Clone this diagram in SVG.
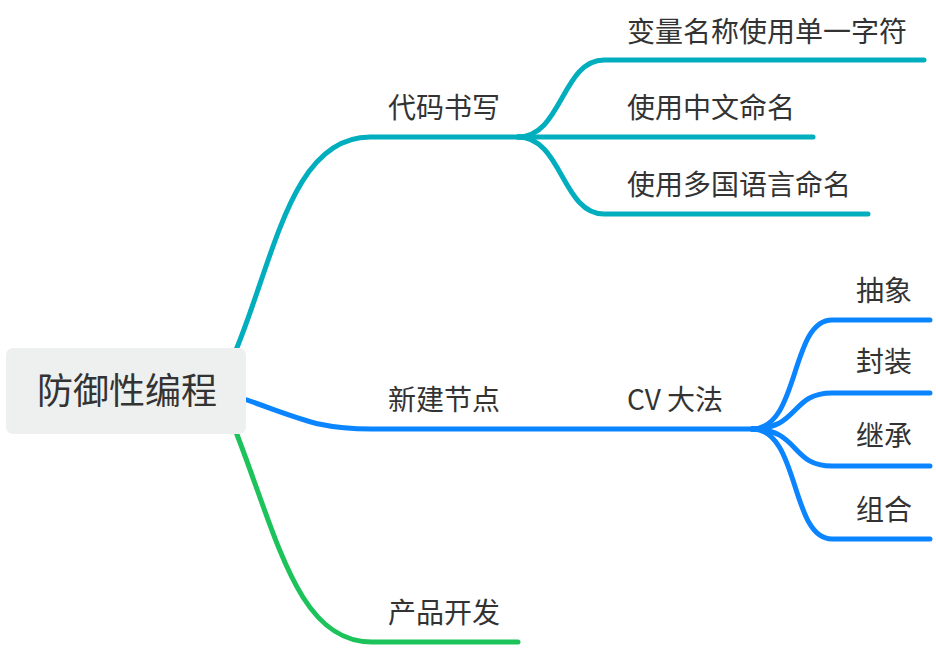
<svg xmlns="http://www.w3.org/2000/svg" width="936" height="648" viewBox="0 0 936 648">
<style>
.ln{fill:none;stroke-width:5;stroke-linecap:round;stroke-linejoin:round}
.t{stroke:#00AEBE}.b{stroke:#0A84FF}.g{stroke:#1CC35A}
.lb{font-family:"Noto Sans CJK SC","Noto Sans",sans-serif;font-size:28px;fill:#333}
.rt{font-family:"Noto Sans CJK SC","Noto Sans",sans-serif;font-size:36px;fill:#333}
</style>
<rect width="936" height="648" fill="#fff"/>
<g id="connectors">
<path class="ln t" d="M236 350 C275 255 292 137 370 137 L520 137"/>
<path class="ln t" d="M518 137 C562 137 562 60 604 60 L924 60"/>
<path class="ln t" d="M518 137 L813 137"/>
<path class="ln t" d="M518 137 C562 137 562 214 604 214 L868 214"/>
<path class="ln b" d="M244 399 C305 420 318 429 372 429 L760 429"/>
<path class="ln b" d="M752 429 C800 429 790 320 832 320 L930 320"/>
<path class="ln b" d="M752 429 C800 429 790 393 832 393 L930 393"/>
<path class="ln b" d="M752 429 C800 429 790 466 832 466 L930 466"/>
<path class="ln b" d="M752 429 C800 429 790 539 832 539 L930 539"/>
<path class="ln g" d="M236 432 C278 540 298 642 372 642 L518 642"/>
</g>
<g id="root">
<rect x="6" y="348" width="240" height="86" rx="7" fill="#EEF0EF"/>
<text class="rt" x="37" y="404">防御性编程</text>
</g>
<g id="n1"><text class="lb" x="388" y="118">代码书写</text></g>
<g id="n1a"><text class="lb" x="627" y="42">变量名称使用单一字符</text></g>
<g id="n1b"><text class="lb" x="627" y="118">使用中文命名</text></g>
<g id="n1c"><text class="lb" x="627" y="195">使用多国语言命名</text></g>
<g id="n2"><text class="lb" x="388" y="410">新建节点</text></g>
<g id="n2a"><text class="lb" x="627" y="410">CV 大法</text></g>
<g id="n2a1"><text class="lb" x="856" y="301">抽象</text></g>
<g id="n2a2"><text class="lb" x="856" y="372">封装</text></g>
<g id="n2a3"><text class="lb" x="856" y="446">继承</text></g>
<g id="n2a4"><text class="lb" x="856" y="520">组合</text></g>
<g id="n3"><text class="lb" x="388" y="623">产品开发</text></g>
</svg>
